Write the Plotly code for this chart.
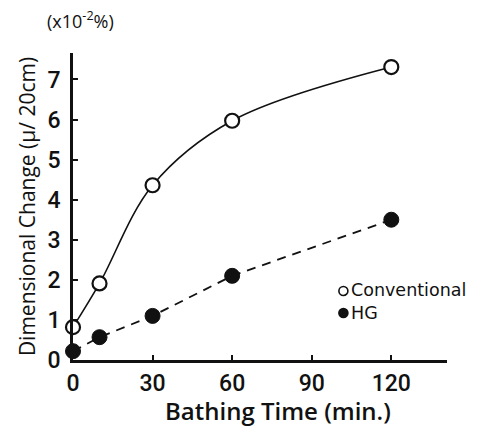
import plotly.graph_objects as go

# Bathing time (min) and dimensional change (x10^-2 %, i.e. μ / 20 cm)
time_min = [0, 10, 30, 60, 120]
conventional = [0.82, 1.91, 4.36, 5.97, 7.31]
hg = [0.22, 0.57, 1.10, 2.10, 3.50]

x_ticks = [0, 30, 60, 90, 120]
y_ticks = [0, 1, 2, 3, 4, 5, 6, 7]

TICK_FONT = "Roboto"
TEXT_FONT = "Open Sans"
INK = "#111111"

fig = go.Figure()

# smooth curve for the conventional bath
fig.add_trace(go.Scatter(
    x=time_min, y=conventional, mode="lines",
    line=dict(color=INK, width=1.6, shape="spline", smoothing=1.0),
    showlegend=False, hoverinfo="skip", cliponaxis=False,
))
# dashed line for HG
fig.add_trace(go.Scatter(
    x=time_min, y=hg, mode="lines",
    line=dict(color=INK, width=1.8, dash="9px,7px"),
    showlegend=False, hoverinfo="skip", cliponaxis=False,
))
fig.add_trace(go.Scatter(
    x=time_min, y=conventional, mode="markers", name="Conventional",
    marker=dict(symbol="circle", size=14, color="white",
                line=dict(color=INK, width=2.2)),
    showlegend=False, cliponaxis=False,
))
fig.add_trace(go.Scatter(
    x=time_min, y=hg, mode="markers", name="HG",
    marker=dict(symbol="circle", size=15, color=INK,
                line=dict(color=INK, width=1)),
    showlegend=False, cliponaxis=False,
))

# legend: small symbols next to a two-line label block
legend_labels = ["Conventional", "HG"]
legend_fills = ["white", INK]
legend_rows = [0.225, 0.153]
shapes = []
for fill, ypos in zip(legend_fills, legend_rows):
    shapes.append(dict(
        type="circle", xref="paper", yref="paper",
        xsizemode="pixel", ysizemode="pixel",
        xanchor=0.723, yanchor=ypos,
        x0=-4.5, x1=4.5, y0=-4.5, y1=4.5,
        fillcolor=fill, line=dict(color=INK, width=1.6),
    ))
annotations = [dict(
    xref="paper", yref="paper", x=0.739, y=sum(legend_rows) / 2,
    xanchor="left", yanchor="middle", align="left", showarrow=False,
    text="<br>".join(legend_labels),
    font=dict(family="DejaVu Sans", size=17.5, color=INK),
)]

# unit label above the value axis
annotations.append(dict(
    xref="paper", yref="paper", x=0.019, y=1.108, xanchor="center",
    yanchor="middle", showarrow=False,
    text="(x10<sup>-2</sup>%)", font=dict(family=TEXT_FONT, size=18, color=INK),
))
# time axis title
annotations.append(dict(
    xref="paper", yref="paper", x=0.547, y=-0.166, xanchor="center",
    yanchor="middle", showarrow=False, borderpad=0,
    text="Bathing Time (min.)",
    font=dict(family=TEXT_FONT, size=24, weight=600, color=INK),
))

fig.update_layout(
    width=481, height=426,
    margin=dict(l=73, r=34, t=53, b=66),
    paper_bgcolor="white", plot_bgcolor="white",
    font=dict(family=TEXT_FONT, color=INK),
    shapes=shapes, annotations=annotations,
    showlegend=False,
)

fig.update_xaxes(
    range=[0, 141], tickvals=x_ticks, ticktext=[str(v) for v in x_ticks],
    showgrid=False, zeroline=False,
    showline=True, linecolor=INK, linewidth=2.8,
    ticks="inside", ticklen=5, tickwidth=2, tickcolor=INK,
    tickfont=dict(family=TICK_FONT, size=23, weight=500, color=INK),
    ticklabelstandoff=0,
)
fig.update_yaxes(
    range=[0, 7.66], tickvals=y_ticks, ticktext=[str(v) for v in y_ticks],
    showgrid=False, zeroline=False,
    showline=True, linecolor=INK, linewidth=2.8,
    ticks="inside", ticklen=5, tickwidth=2, tickcolor=INK,
    tickfont=dict(family=TICK_FONT, size=23, weight=500, color=INK),
    ticklabelstandoff=5,
    title=dict(text="Dimensional Change (μ/ 20cm)", standoff=7,
               font=dict(family=TEXT_FONT, size=21, color=INK)),
)

fig.write_html("out.html")
